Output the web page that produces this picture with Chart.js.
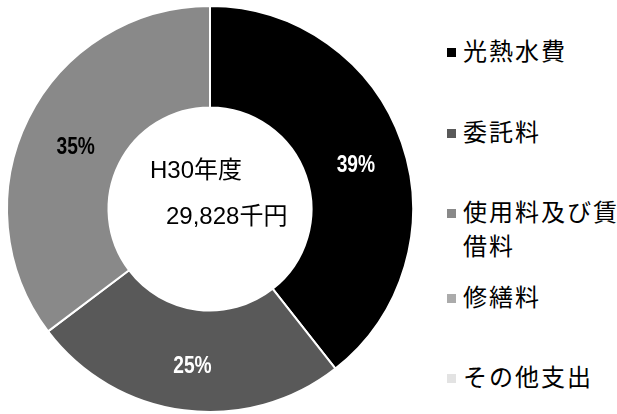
<!DOCTYPE html>
<html lang="ja">
<head>
<meta charset="utf-8">
<script src="https://cdn.jsdelivr.net/npm/chart.js@4.4.1/dist/chart.umd.min.js"></script>
<style>
  html, body { margin: 0; padding: 0; background: #fff; }
  #wrap { position: relative; width: 617px; height: 414px; overflow: hidden; }
  #chartBox { position: absolute; left: 0; top: 0; width: 420px; height: 414px; }
  #legend { position: absolute; left: 447px; top: 0; width: 170px; margin: 0; padding: 0; list-style: none;
    font-family: "Liberation Sans", "Noto Sans CJK JP", sans-serif; font-size: 24px; color: #000; }
  #legend li { position: absolute; left: 0; display: flex; align-items: flex-start; line-height: 34px; letter-spacing: 2px; white-space: nowrap; }
  #legend .box { flex: none; width: 9px; height: 9px; margin-top: 13px; margin-right: 7px; }
</style>
</head>
<body>
<div id="wrap">
  <div id="chartBox"><canvas id="pie"></canvas></div>
  <ul id="legend"></ul>
</div>
<script>
const labels = ['光熱水費', '委託料', '使用料及び賃借料', '修繕料', 'その他支出'];
const shares = [39.4, 25.3, 35.3, 0, 0];
const colors = ['#000000', '#595959', '#898989', '#ababab', '#e3e3e3'];
const labelColors = ['#ffffff', '#ffffff', '#000000', '#000000', '#000000'];
const legendTops = [35, 116, 196, 281, 361];
const centerLines = ['H30年度', '29,828千円'];

// percentage labels on the slices (squeezed to look condensed)
const sliceLabels = {
  id: 'sliceLabels',
  afterDatasetsDraw(chart) {
    const { ctx } = chart;
    const meta = chart.getDatasetMeta(0);
    meta.data.forEach((arc, i) => {
      const v = shares[i];
      if (v < 1) return;
      const p = arc.tooltipPosition();
      ctx.save();
      ctx.translate(p.x + 2, p.y + 6);
      ctx.scale(0.8, 1);
      ctx.font = 'bold 24px "Liberation Sans", sans-serif';
      ctx.textAlign = 'center';
      ctx.textBaseline = 'middle';
      ctx.fillStyle = labelColors[i];
      ctx.fillText(Math.round(v) + '%', 0, 0);
      ctx.restore();
    });
  }
};

// title text in the hole
const centerText = {
  id: 'centerText',
  afterDraw(chart) {
    const { ctx } = chart;
    const arc = chart.getDatasetMeta(0).data[0];
    const cy = arc.y;
    ctx.save();
    ctx.font = '24px "Liberation Sans", "Noto Sans CJK JP", sans-serif';
    ctx.fillStyle = '#000';
    ctx.textBaseline = 'middle';
    ctx.textAlign = 'left';
    ctx.fillText(centerLines[0], 150, cy - 38);
    ctx.fillText(centerLines[1], 166, cy + 8);
    ctx.restore();
  }
};

new Chart(document.getElementById('pie'), {
  type: 'doughnut',
  data: {
    labels: labels,
    datasets: [
      {
        data: shares,
        backgroundColor: colors,
        borderColor: '#ffffff',
        borderWidth: 2,
      },
    ],
  },
  options: {
    responsive: true,
    maintainAspectRatio: false,
    animation: false,
    cutout: '50%',
    layout: { padding: { top: 5, bottom: 1, left: 4, right: 4 } },
    plugins: {
      legend: { display: false },
      tooltip: { enabled: false },
    },
  },
  plugins: [sliceLabels, centerText],
});

// legend on the right, the long label wraps onto two lines
const legend = document.getElementById('legend');
labels.forEach((name, i) => {
  const li = document.createElement('li');
  li.style.top = legendTops[i] + 'px';
  const box = document.createElement('span');
  box.className = 'box';
  box.style.background = colors[i];
  const txt = document.createElement('span');
  if (name === '使用料及び賃借料') {
    txt.innerHTML = '使用料及び賃<br>借料';
  } else {
    txt.textContent = name;
  }
  li.appendChild(box);
  li.appendChild(txt);
  legend.appendChild(li);
});
</script>
</body>
</html>
